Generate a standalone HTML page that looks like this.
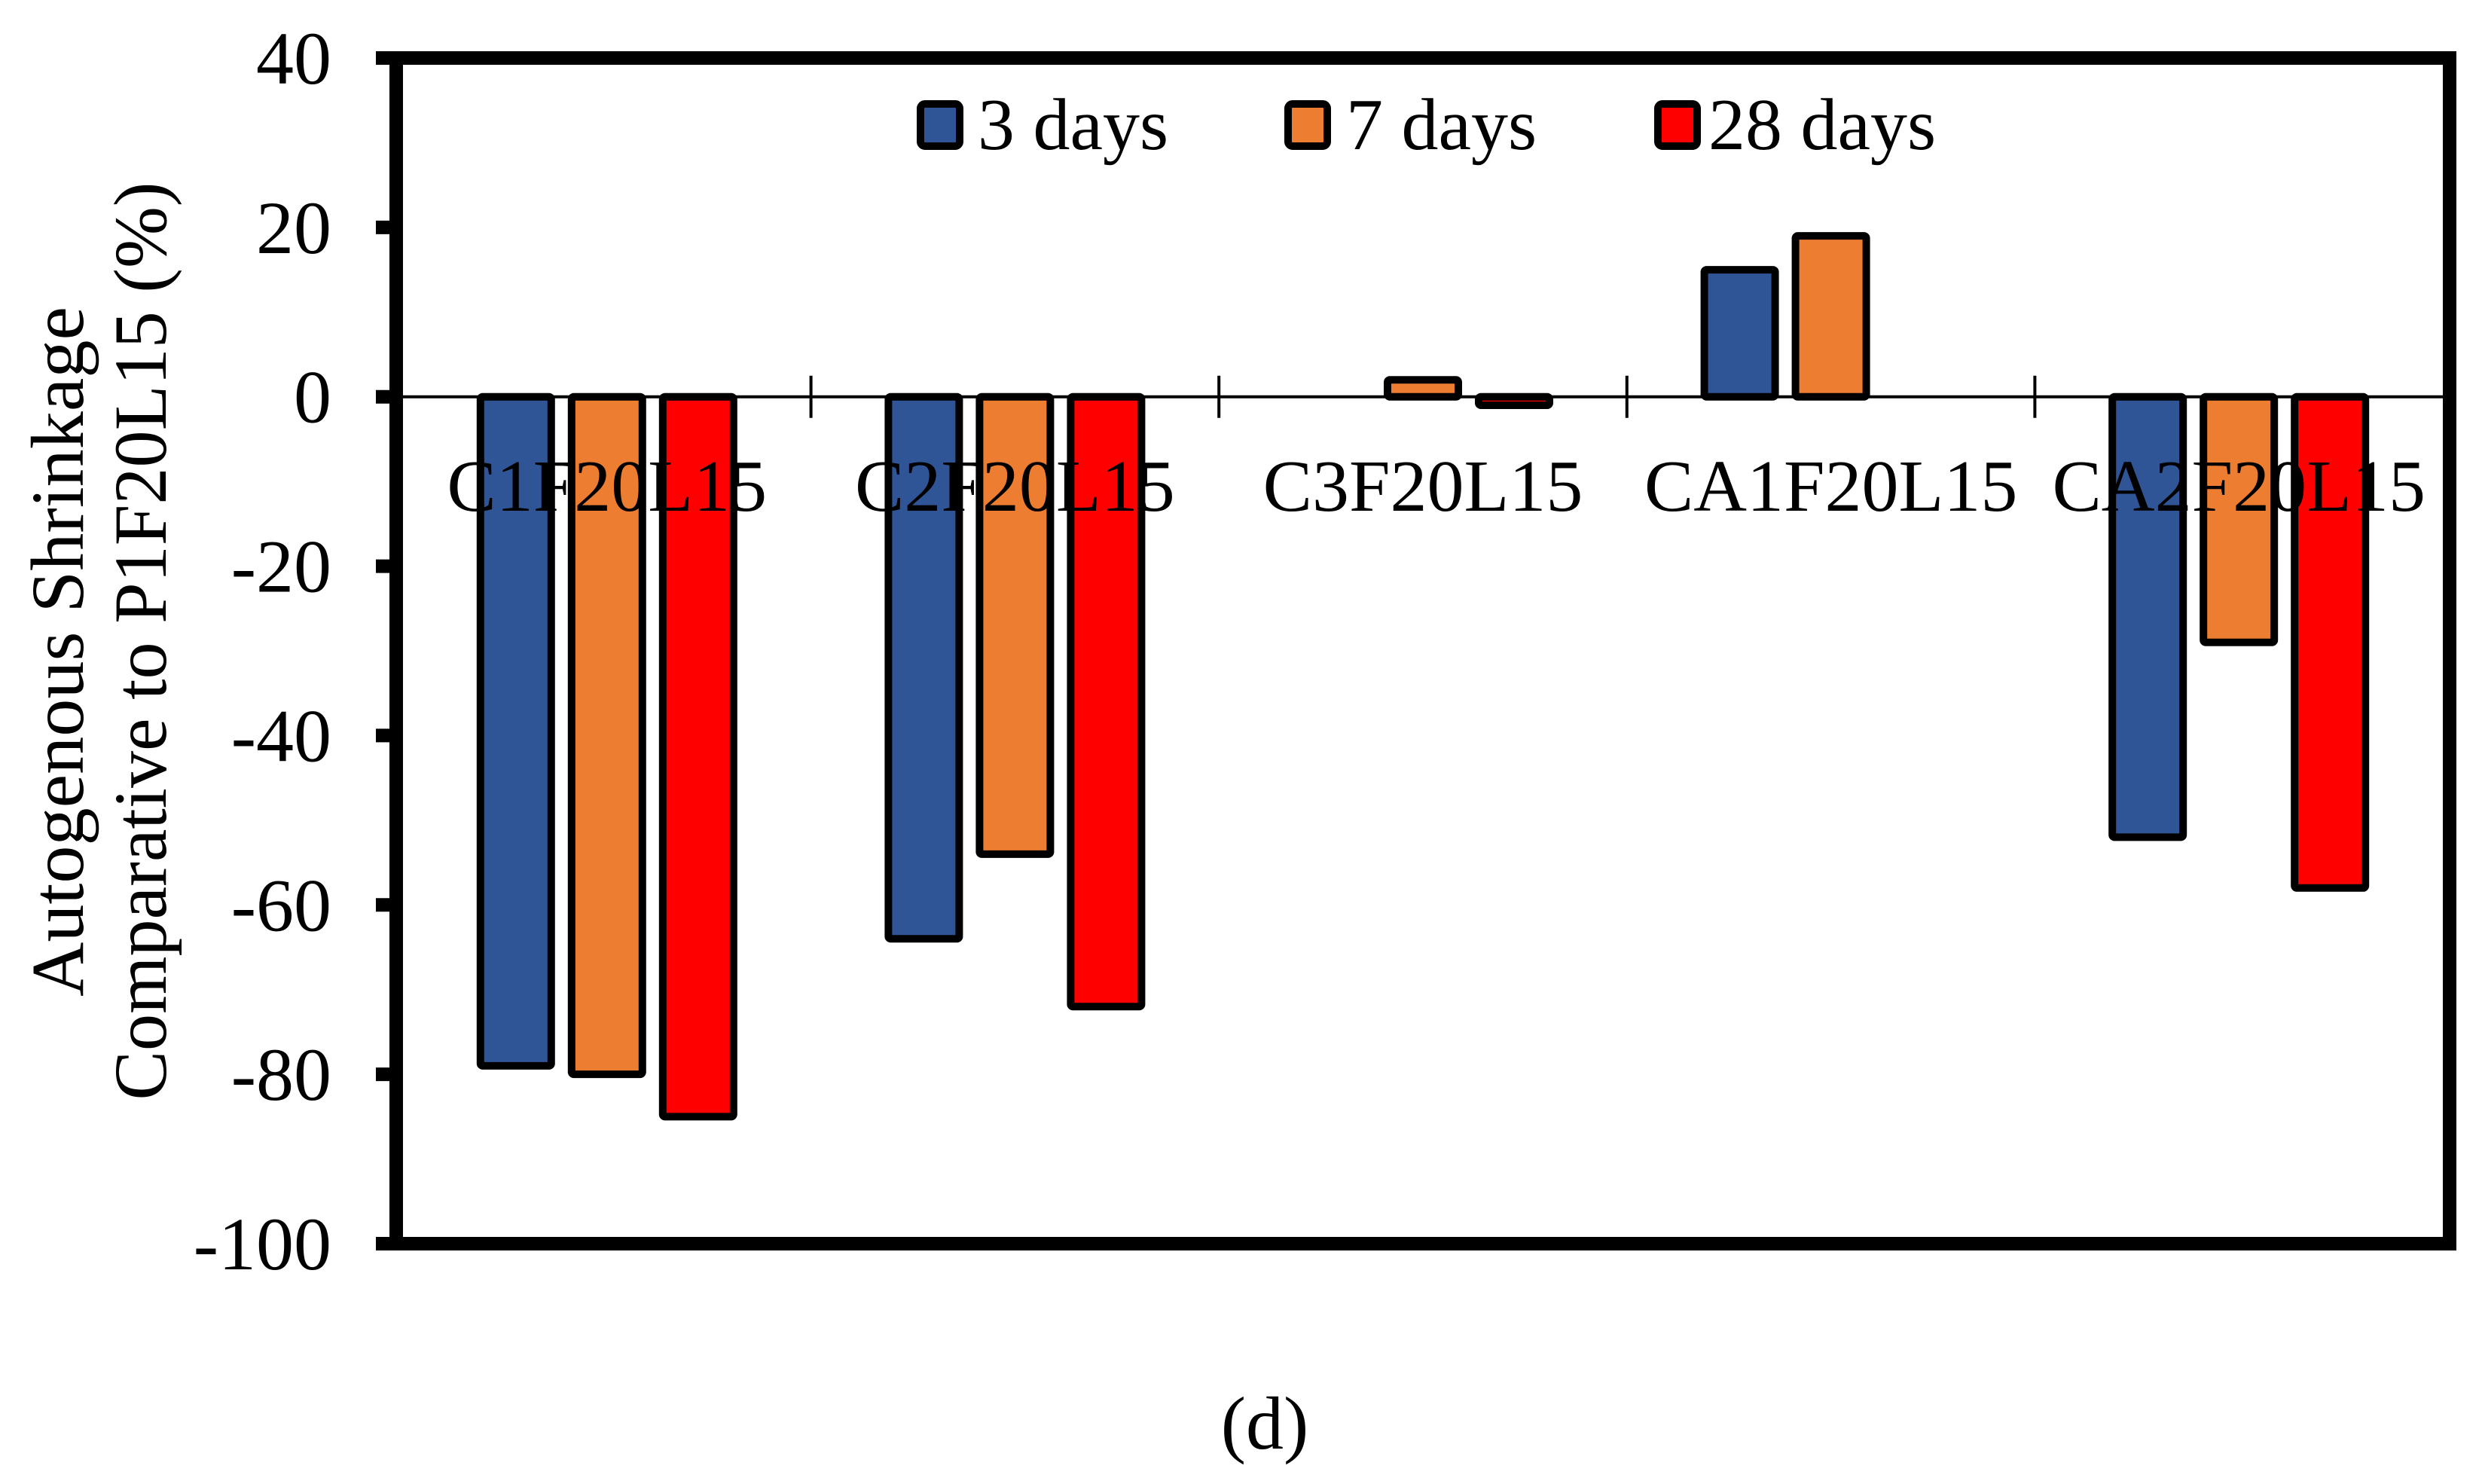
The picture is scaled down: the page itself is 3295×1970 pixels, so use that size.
<!DOCTYPE html>
<html><head><meta charset="utf-8"><style>html,body{margin:0;padding:0;background:#fff}svg{display:block}text{font-family:"Liberation Serif",serif;fill:#000}</style></head>
<body>
<svg id="chart" width="3295" height="1970" viewBox="0 0 3295 1970" xmlns="http://www.w3.org/2000/svg">
<g id="axes"></g>
<g id="bars"></g>
<g id="labels"></g>
<g>
<rect x="1222" y="138" width="52" height="56" rx="6" fill="#2F5597" stroke="#000" stroke-width="10"/>
<text x="1298" y="198" font-size="98">3 days</text>
<rect x="1710" y="138" width="52" height="56" rx="6" fill="#ED7D31" stroke="#000" stroke-width="10"/>
<text x="1787" y="198" font-size="98">7 days</text>
<rect x="2201" y="138" width="52" height="56" rx="6" fill="#FF0000" stroke="#000" stroke-width="10"/>
<text x="2268" y="198" font-size="98">28 days</text>
</g>
<text transform="translate(110,865) rotate(-90)" text-anchor="middle" font-size="100" textLength="916" lengthAdjust="spacingAndGlyphs">Autogenous Shrinkage</text>
<text transform="translate(220,851) rotate(-90)" text-anchor="middle" font-size="100" textLength="1219" lengthAdjust="spacingAndGlyphs">Comparative to P1F20L15 (%)</text>
<text x="1679" y="1923" text-anchor="middle" font-size="100">(d)</text>
</svg>
<script>
const categories = ["C1F20L15","C2F20L15","C3F20L15","CA1F20L15","CA2F20L15"];
const seriesNames = ["3 days","7 days","28 days"];
const days3 = [-79,-64,0,15,-52];
const days7 = [-80,-54,2,19,-29];
const days28 = [-85,-72,-1,0,-58];
const yTicks = [40,20,0,-20,-40,-60,-80,-100];
const colors = ["#2F5597","#ED7D31","#FF0000"];
const NS = "http://www.w3.org/2000/svg";
const L = 535, R = 3243, T = 77, B = 1651, yMin = -100, yMax = 40;
function yScale(v){ return T + (yMax - v) / (yMax - yMin) * (B - T); }
const band = (R - L) / categories.length;
function xCenter(i){ return L + band * (i + 0.5); }
function mk(tag, attrs, parent){ const e = document.createElementNS(NS, tag); for (const k in attrs) e.setAttribute(k, attrs[k]); parent.appendChild(e); return e; }
const axes = document.getElementById('axes'), barsG = document.getElementById('bars'), labelsG = document.getElementById('labels');
// y ticks
yTicks.forEach(v => {
  const y = yScale(v);
  const t = mk('line', {x1: 499, x2: 526, y1: y, y2: y, stroke: '#000', 'stroke-width': 18}, axes);
  
  
  const lb = mk('text', {x: 440, y: y + 34, 'text-anchor': 'end', 'font-size': 100}, axes);
  
  
  lb.textContent = String(v);
});
// zero line
const z = mk('line', {x1: L, x2: R, y1: yScale(0), y2: yScale(0), stroke: '#000', 'stroke-width': 4}, axes);


// category ticks
for (let i = 1; i < categories.length; i++) {
  const x = L + band * i;
  const t = mk('line', {x1: x, x2: x, y1: yScale(0) - 28, y2: yScale(0) + 28, stroke: '#000', 'stroke-width': 4}, axes);
  
  
}
// bars
const series = [days3, days7, days28];
const pitch = 121, bw = 94;
series.forEach((vals, s) => {
  vals.forEach((v, i) => {
    if (v === 0) return;
    const cx = xCenter(i) + (s - 1) * pitch;
    const y0 = yScale(0), y1 = yScale(v);
    const r = mk('rect', {x: cx - bw / 2, y: Math.min(y0, y1), width: bw, height: Math.max(Math.abs(y1 - y0), 4), fill: colors[s], stroke: '#000', 'stroke-width': 10, rx: 3}, barsG);
    
    
  });
});
// category labels
categories.forEach((c, i) => {
  const t = mk('text', {x: xCenter(i), y: 678, 'text-anchor': 'middle', 'font-size': 98}, labelsG);
  
  
  t.textContent = c;
});
// frame
const f = mk('rect', {x: 526, y: T, width: 3252 - 526, height: B - T, fill: 'none', stroke: '#000', 'stroke-width': 18}, labelsG);


</script>
</body></html>
